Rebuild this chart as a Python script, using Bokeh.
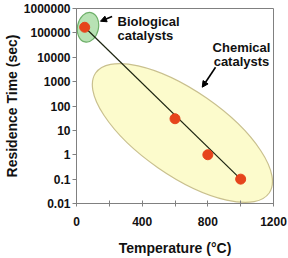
from bokeh.plotting import figure
from bokeh.models import Range1d, FixedTicker, CustomJSTickFormatter, Arrow, NormalHead
from bokeh.core.properties import value
from bokeh.embed import file_html
from bokeh.resources import INLINE

# data
temps = [50, 600, 800, 1000]
res_time = [170000, 30, 1, 0.1]
trend_x = [50, 1000]
trend_y = [170000, 0.1]
x_ticks = [0, 200, 400, 600, 800, 1000, 1200]
y_ticks = [0.01, 0.1, 1, 10, 100, 1000, 10000, 100000, 1000000]

FONT = "Liberation Sans"

p = figure(width=288, height=258, output_backend="svg", toolbar_location=None,
           y_axis_type="log", x_range=Range1d(0, 1200), y_range=Range1d(0.01, 1000000),
           min_border_left=76, min_border_right=15, min_border_top=8, min_border_bottom=55)
p.grid.visible = False
p.outline_line_color = "#808080"
p.background_fill_color = "white"

# regions
p.ellipse(x=[645], y=[7.8], width=[211], height=[85], angle=[-0.605],
          width_units="screen", height_units="screen",
          fill_color="#fcfbcc", line_color="#c9c08e", line_width=1.2)
p.ellipse(x=[70], y=[170000], width=[21], height=[30], angle=[-0.2],
          width_units="screen", height_units="screen",
          fill_color="#b8e2b4", line_color="#6fb06a", line_width=1.2)

p.line(trend_x, trend_y, line_color="#1c2410", line_width=1.2)
p.scatter(temps, res_time, size=10, fill_color="#e6441c", line_color="#e6441c")

# annotations
p.text(x=[250, 250], y=[300000, 78000], text=["Biological", "catalysts"],
       text_font=value(FONT), text_font_style="bold", text_font_size="13px",
       text_baseline="alphabetic", text_align="left", text_color="#111111")
p.text(x=[1005, 1005], y=[26000, 6500], text=["Chemical", "catalysts"],
       text_font=value(FONT), text_font_style="bold", text_font_size="13px",
       text_baseline="alphabetic", text_align="center", text_color="#111111")
p.add_layout(Arrow(end=NormalHead(size=6, fill_color="black", line_color="black"),
                   x_start=217, y_start=470000, x_end=146, y_end=300000,
                   line_width=1.6, line_color="black"))
p.add_layout(Arrow(end=NormalHead(size=6, fill_color="black", line_color="black"),
                   x_start=847, y_start=3900, x_end=766, y_end=590,
                   line_width=1.6, line_color="black"))

# axes
xa = p.xaxis[0]
xa.ticker = FixedTicker(ticks=x_ticks)
xa.formatter = CustomJSTickFormatter(code="return (tick % 400 == 0) ? tick.toString() : '';")
xa.axis_label = "Temperature (°C)"
xa.major_tick_in = 3
xa.major_tick_out = 3
xa.major_label_standoff = 10
xa.axis_label_standoff = 11

ya = p.yaxis[0]
ya.ticker = FixedTicker(ticks=y_ticks)
ya.formatter = CustomJSTickFormatter(code="return tick.toString();")
ya.axis_label = "Residence Time (sec)"
ya.major_tick_in = 0
ya.major_tick_out = 4
ya.major_label_standoff = 2
ya.axis_label_standoff = 1

for ax in (xa, ya):
    ax.minor_tick_line_color = None
    ax.axis_line_color = "#808080"
    ax.major_tick_line_color = "#808080"
    ax.major_label_text_font = FONT
    ax.major_label_text_font_style = "bold"
    ax.major_label_text_font_size = "12px"
    ax.major_label_text_color = "#111111"
    ax.axis_label_text_font = FONT
    ax.axis_label_text_font_style = "bold"
    ax.axis_label_text_font_size = "14px"
    ax.axis_label_text_color = "#111111"

open("out.html", "w").write(file_html(p, INLINE))
